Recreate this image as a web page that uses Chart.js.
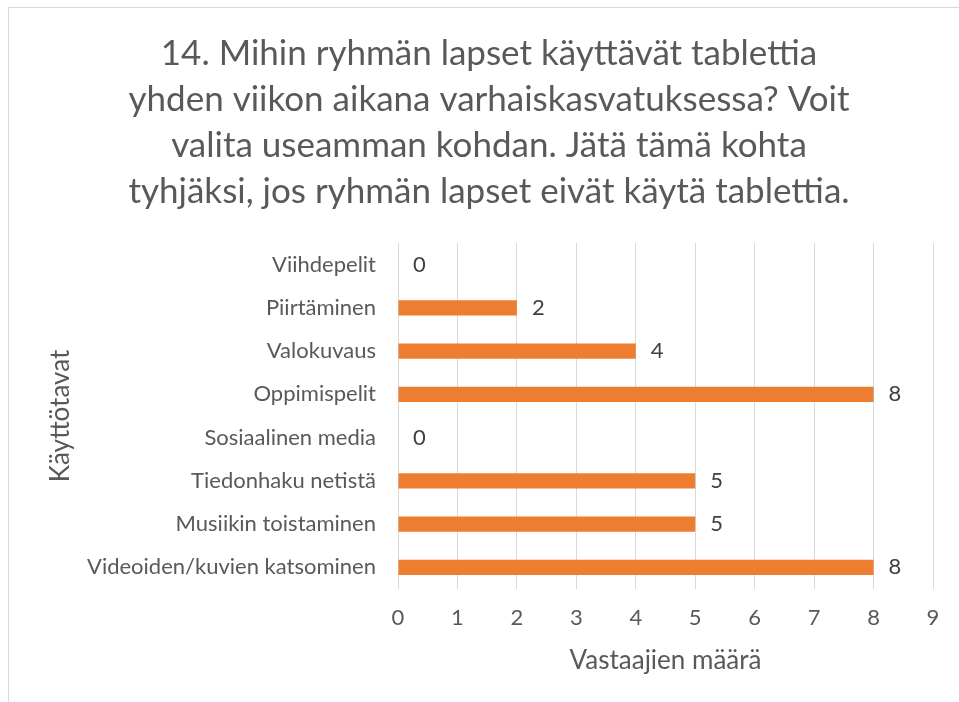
<!DOCTYPE html>
<html>
<head>
<meta charset="utf-8">
<script src="https://cdn.jsdelivr.net/npm/chart.js@4.4.1/dist/chart.umd.min.js"></script>
<style>
  html, body { margin: 0; padding: 0; background: #fff; }
  #wrap { position: relative; width: 959px; height: 702px; overflow: hidden; }
  #frame { position: absolute; left: 8px; top: 7px; width: 1000px; height: 800px;
           border-left: 1px solid #d9d9d9; border-top: 1px solid #d9d9d9; }
  #chart { position: absolute; left: 0; top: 0; }
</style>
</head>
<body>
<div id="wrap">
  <div id="frame"></div>
  <canvas id="chart" width="959" height="702"></canvas>
</div>
<script>
// Data
const categories = [
  'Viihdepelit',
  'Piirtäminen',
  'Valokuvaus',
  'Oppimispelit',
  'Sosiaalinen media',
  'Tiedonhaku netistä',
  'Musiikin toistaminen',
  'Videoiden/kuvien katsominen'
];
const answers = [0, 2, 4, 8, 0, 5, 5, 8];
const titleLines = [
  '14. Mihin ryhmän lapset käyttävät tablettia',
  'yhden viikon aikana varhaiskasvatuksessa? Voit',
  'valita useamman kohdan. Jätä tämä kohta',
  'tyhjäksi, jos ryhmän lapset eivät käytä tablettia.'
];
const xTitle = 'Vastaajien määrä';
const yTitle = 'Käyttötavat';

const FONT = 'Lato, "Open Sans", sans-serif';
const TEXT = '#595959';

// Writes the value to the right of each bar end
const valueLabels = {
  id: 'valueLabels',
  afterDatasetsDraw(chart) {
    const ctx = chart.ctx;
    const meta = chart.getDatasetMeta(0);
    ctx.save();
    ctx.font = '22px ' + FONT;
    ctx.fillStyle = '#404040';
    ctx.textAlign = 'left';
    ctx.textBaseline = 'middle';
    meta.data.forEach((bar, i) => {
      ctx.fillText(String(answers[i]), bar.x + 15, bar.y);
    });
    ctx.restore();
  }
};

const ctx = document.getElementById('chart').getContext('2d');
new Chart(ctx, {
  type: 'bar',
  data: {
    labels: categories,
    datasets: [{
      data: answers,
      backgroundColor: '#ED7D31',
      barPercentage: 0.35,
      categoryPercentage: 1
    }]
  },
  options: {
    indexAxis: 'y',
    responsive: false,
    animation: false,
    layout: { padding: { left: 45, right: 26, top: 0, bottom: 0 } },
    plugins: {
      legend: { display: false },
      tooltip: { enabled: false },
      title: {
        display: true,
        text: titleLines,
        color: TEXT,
        font: { family: FONT, size: 35, weight: 'normal', lineHeight: '46px' },
        padding: { top: 31, bottom: 28 }
      }
    },
    scales: {
      x: {
        min: 0,
        max: 9,
        ticks: { stepSize: 1, color: TEXT, padding: 16, font: { family: FONT, size: 22 } },
        grid: { color: '#d9d9d9', drawTicks: false },
        border: { display: false },
        title: {
          display: true, text: xTitle, color: TEXT,
          font: { family: FONT, size: 26 },
          padding: { top: 0, bottom: 26 }
        },
        afterFit(scale) { scale.height = 113; }
      },
      y: {
        ticks: { color: TEXT, padding: 22, font: { family: FONT, size: 22 } },
        grid: { display: false, drawTicks: false },
        border: { display: false },
        title: {
          display: true, text: yTitle, color: TEXT,
          font: { family: FONT, size: 26 },
          padding: { top: 0, bottom: 0 }
        },
        afterFit(scale) { scale.width = 353; }
      }
    }
  },
  plugins: [valueLabels]
});
</script>
</body>
</html>
